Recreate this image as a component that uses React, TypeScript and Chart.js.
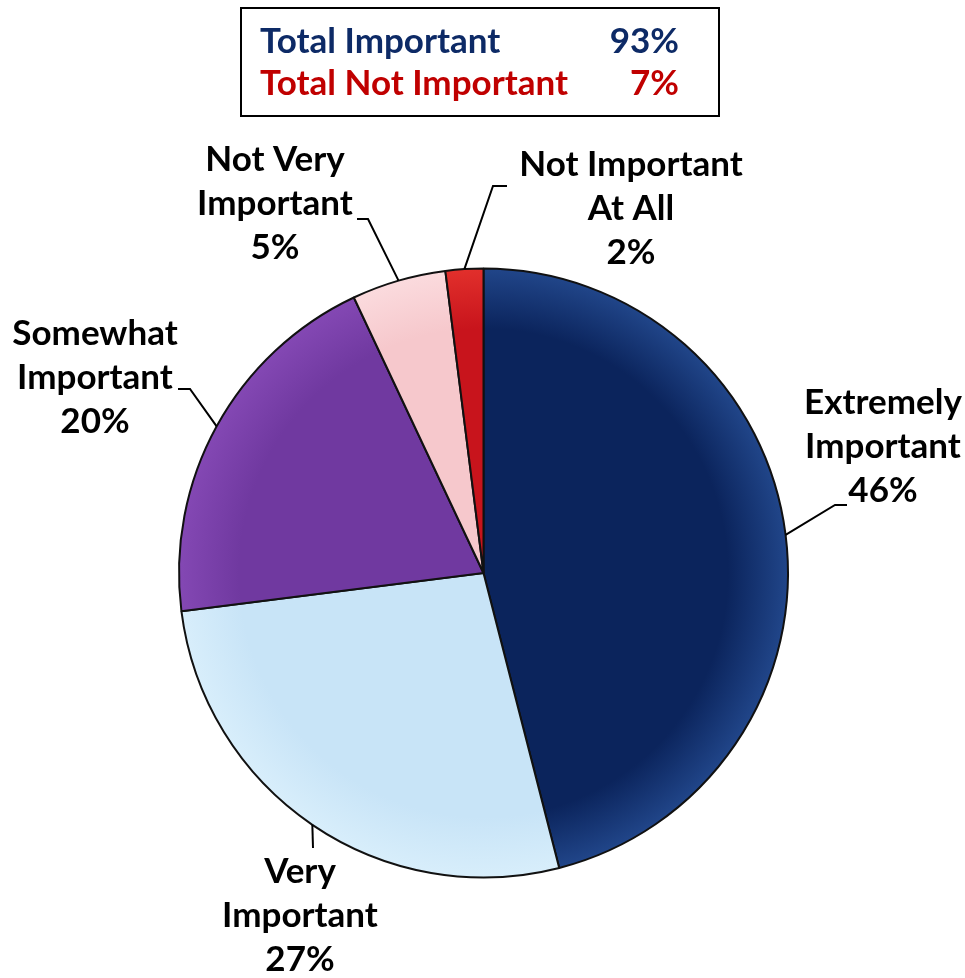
import React, { useEffect, useRef } from "react";
import { Chart, registerables } from "chart.js";

Chart.register(...registerables);

const categories = [
  "Extremely Important",
  "Very Important",
  "Somewhat Important",
  "Not Very Important",
  "Not Important At All",
];
const values = [46, 27, 20, 5, 2];
const labelLines = [
  ["Extremely", "Important"],
  ["Very", "Important"],
  ["Somewhat", "Important"],
  ["Not Very", "Important"],
  ["Not Important", "At All"],
];
const summaryLabels = ["Total Important", "Total Not Important"];
const summaryValues = [93, 7];

const sliceColors = [
  ["#0b245c", "#21468a"],
  ["#c8e4f7", "#d8eefb"],
  ["#7039a0", "#8448b4"],
  ["#f6c8cc", "#fbdbde"],
  ["#c8141c", "#e2302c"],
];
const summaryColors = ["#0d2a66", "#c00000"];

// label layout: text center x, first line y, elbow point, end point
const labelLayout = [
  { x: 883, y: 403, elbow: [835, 505], end: [847, 505] },
  { x: 300, y: 872, elbow: null, end: [313, 848] },
  { x: 95, y: 334, elbow: [190, 389], end: [178, 389] },
  { x: 275, y: 160, elbow: [368, 219], end: [357, 219] },
  { x: 631, y: 165, elbow: [493, 186], end: [507, 186] },
];

const FONT = "bold 35px Lato, 'Open Sans', sans-serif";

const labelPlugin = {
  id: "customLabels",
  afterDraw(chart: any) {
    const ctx = chart.ctx;
    const meta = chart.getDatasetMeta(0);
    ctx.save();
    // summary box
    ctx.strokeStyle = "#000";
    ctx.lineWidth = 2;
    ctx.strokeRect(241, 8, 478, 108);
    ctx.font = FONT;
    ctx.textBaseline = "middle";
    summaryLabels.forEach((lab, i) => {
      const y = 42 + i * 42;
      ctx.fillStyle = summaryColors[i];
      ctx.textAlign = "left";
      ctx.fillText(lab, 260, y);
      ctx.textAlign = "right";
      ctx.fillText(summaryValues[i] + "%", 679, y);
    });

    meta.data.forEach((arc: any, i: number) => {
      const { x, y, startAngle, endAngle, outerRadius } = arc.getProps(
        ["x", "y", "startAngle", "endAngle", "outerRadius"],
        true
      );
      const mid = (startAngle + endAngle) / 2;
      const sx = x + Math.cos(mid) * outerRadius;
      const sy = y + Math.sin(mid) * outerRadius;
      const L = labelLayout[i];
      ctx.strokeStyle = "#000";
      ctx.lineWidth = 2;
      ctx.beginPath();
      ctx.moveTo(sx, sy);
      if (L.elbow) ctx.lineTo(L.elbow[0], L.elbow[1]);
      ctx.lineTo(L.end[0], L.end[1]);
      ctx.stroke();

      ctx.fillStyle = "#000";
      ctx.textAlign = "center";
      ctx.textBaseline = "middle";
      ctx.font = FONT;
      const lines = [...labelLines[i], values[i] + "%"];
      lines.forEach((t, k) => ctx.fillText(t, L.x, L.y + k * 44));
    });
    ctx.restore();
  },
};

export default function App() {
  const ref = useRef<HTMLCanvasElement | null>(null);
  useEffect(() => {
    const canvas = ref.current!;
    const chart = new Chart(canvas, {
      type: "pie",
      data: {
        labels: categories,
        datasets: [
          {
            data: values,
            backgroundColor: (c: any) => {
              const i = c.dataIndex;
              const ch = c.chart;
              const area = ch.chartArea;
              if (!area) return sliceColors[i][0];
              const cx = (area.left + area.right) / 2;
              const cy = (area.top + area.bottom) / 2;
              const r = Math.min(area.width, area.height) / 2;
              const g = ch.ctx.createRadialGradient(cx, cy, 0, cx, cy, r);
              g.addColorStop(0, sliceColors[i][0]);
              g.addColorStop(0.8, sliceColors[i][0]);
              g.addColorStop(1, sliceColors[i][1]);
              return g;
            },
            borderColor: "#111",
            borderWidth: 2,
          },
        ],
      },
      options: {
        responsive: false,
        animation: false,
        layout: { padding: { left: 178, right: 176, top: 267, bottom: 99 } },
        plugins: {
          legend: { display: false },
          tooltip: { enabled: false },
          title: { display: false },
        },
      },
      plugins: [labelPlugin],
    });
    return () => chart.destroy();
  }, []);
  return (
    <div style={{ position: "fixed", left: 0, top: 0, width: 965, height: 978, background: "#fff" }}>
      <canvas ref={ref} width={965} height={978} style={{ display: "block" }} />
    </div>
  );
}
